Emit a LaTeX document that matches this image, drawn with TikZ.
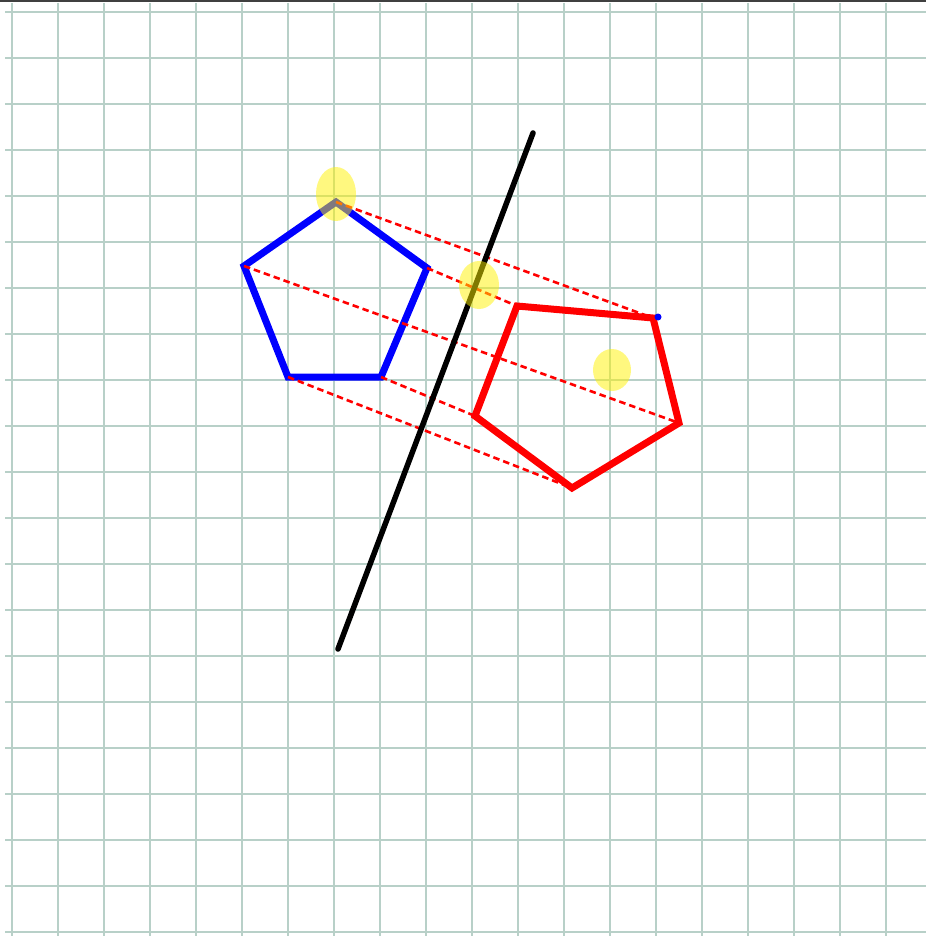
\documentclass[tikz,border=0pt]{standalone}
\begin{document}
\begin{tikzpicture}[x=1pt,y=-1pt,
  gridline/.style={draw=gridc,line width=2.4pt},
  bluepoly/.style={draw=blue,line width=7pt,line join=miter},
  redpoly/.style={draw=red,line width=7pt,line join=miter},
  mirror/.style={draw=black,line width=5.5pt,line cap=round},
  proj/.style={draw=red,line width=2.6pt,dash pattern=on 6.5pt off 4pt},
  hilite/.style={fill=yellow,fill opacity=0.5},
  topbar/.style={draw=black!75,line width=2pt}]
\definecolor{gridc}{RGB}{184,208,200}
\useasboundingbox (0,0) rectangle (926,936);
\fill[white] (0,0) rectangle (926,936);
% grid
\foreach \k in {0,...,20}{\draw[gridline] (5,{12+46*\k}) -- (926,{12+46*\k});}
\foreach \k in {0,...,19}{\draw[gridline] ({12+46*\k},3) -- ({12+46*\k},936);}
\draw[topbar] (0,1.5) -- (926,1.5);
% blue pentagon
\coordinate (bT) at (336,202);
\coordinate (bR) at (427,268);
\coordinate (bBR) at (381,377);
\coordinate (bBL) at (288,377);
\coordinate (bL) at (244,266);
% red pentagon
\coordinate (rTL) at (517,306);
\coordinate (rTR) at (653,318);
\coordinate (rR) at (679,423);
\coordinate (rB) at (572,488);
\coordinate (rL) at (475,416);
% mirror line
\coordinate (mA) at (533,133);
\coordinate (mB) at (338,649);
\draw[bluepoly] (bT) -- (bR) -- (bBR) -- (bBL) -- (bL) -- cycle;
\draw[redpoly] (rTL) -- (rTR) -- (rR) -- (rB) -- (rL) -- cycle;
\draw[proj] (bT) -- (rTR);
\draw[proj] (bR) -- (rTL);
\draw[proj] (bL) -- (rR);
\draw[proj] (bBL) -- (rB);
\draw[proj] (bBR) -- (rL);
\draw[mirror] (mA) -- (mB);
\fill[blue] (658,317) circle (3.5);
% highlights
\fill[hilite] (336,194) ellipse (20 and 27);
\fill[hilite] (479,285) ellipse (20 and 24);
\fill[hilite] (612,370) ellipse (19 and 21);
\end{tikzpicture}
\end{document}
